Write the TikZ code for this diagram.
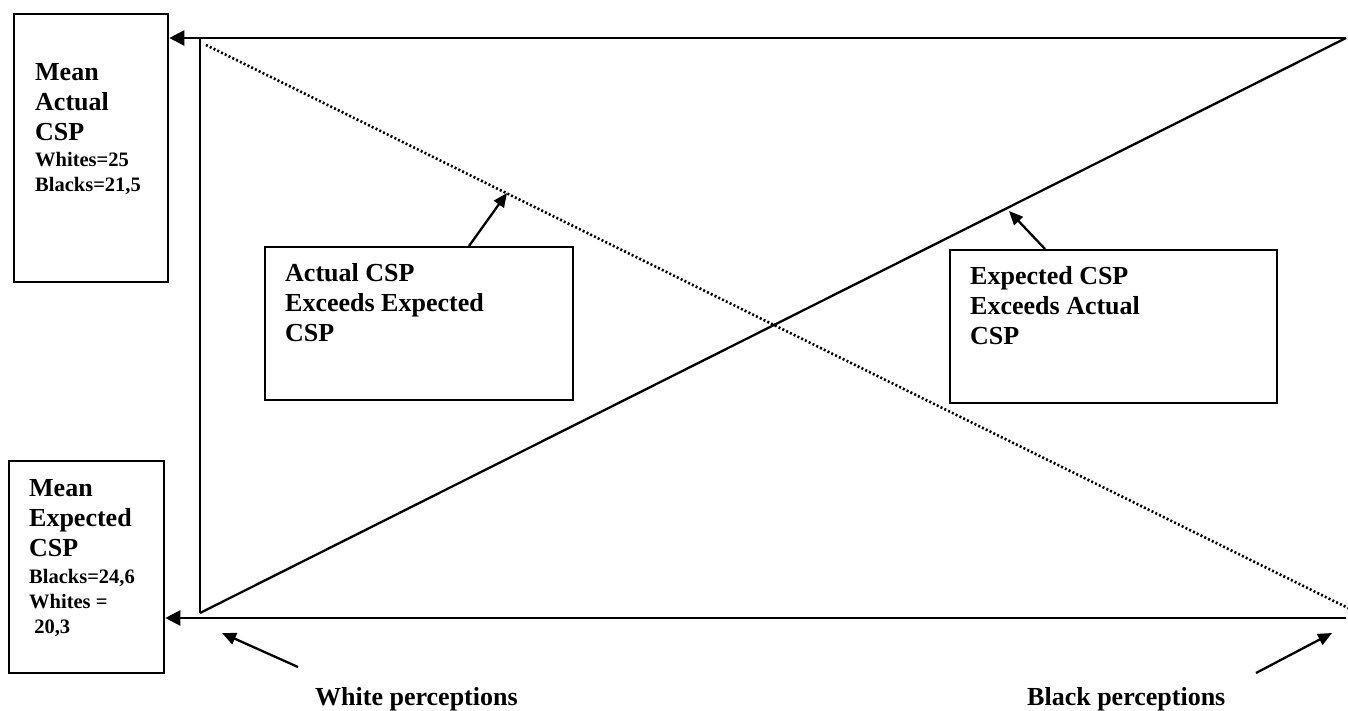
\documentclass[tikz,border=0pt]{standalone}
\usepackage{fontspec}
\setmainfont{Liberation Serif}
\usetikzlibrary{arrows.meta, positioning}
\tikzset{
	boxnode/.style={
			draw=black,
			line width=2.3pt,
			inner sep=0pt,
			anchor=north west
		},
	bigtext/.style={
			anchor=north west,
			inner sep=0pt,
			align=left,
			font=\fontsize{26}{30}\selectfont\bfseries
		},
	smalltext/.style={
			bigtext,
			font=\fontsize{20.5}{25}\selectfont\bfseries
		},
	axisline/.style={
			line width=2.3pt,
			draw=black
		},
	dotline/.style={
			axisline,
			line width=2.6pt,
			dash pattern=on 2pt off 2.2pt
		},
	bigtip/.style={
			-{Triangle[length=15pt,width=15pt]}
		},
	smalltip/.style={
			-{Triangle[length=14pt,width=12pt]}
		}
}
\begin{document}
\begin{tikzpicture}[x=1pt, y=-1pt]
\useasboundingbox (0,0) rectangle (1348,711);

\node[boxnode, minimum width=154pt, minimum height=268pt] (bMA) at (13,13) {};
\node[bigtext] (tMA) at (35,63) {Mean\\Actual\\CSP};
\node[smalltext] (sMA) at (35,152) {Whites=25\\Blacks=21,5};

\node[boxnode, minimum width=155pt, minimum height=212pt] (bME) at (8,460) {};
\node[bigtext] (tME) at (29,479) {Mean\\Expected\\CSP};
\node[smalltext] (sME) at (29,569) {Blacks=24,6\\Whites =\\~20,3};

\node[boxnode, minimum width=308pt, minimum height=153pt] (bUp) at (264,246) {};
\node[bigtext] (tUp) at (285,263) {Actual CSP\\Exceeds Expected\\CSP};

\node[boxnode, minimum width=327pt, minimum height=153pt] (bDn) at (949,249) {};
\node[bigtext] (tDn) at (970,266) {Expected CSP\\Exceeds Actual\\CSP};

\node[bigtext, anchor=base west] (lW) at (315,705) {White perceptions};
\node[bigtext, anchor=base west] (lB) at (1027,705) {Black perceptions};

\coordinate (cTR) at (1346,38);
\coordinate (cTL) at (200,38);
\coordinate (cBL) at (200,613);
\coordinate (cBR) at (1346,618);
\coordinate (dS) at (206,45);
\coordinate (dE) at (1348,608);

\draw[axisline, bigtip] (cTR) -- (bMA.east |- cTR);
\draw[axisline, bigtip] (cBR) -- (bME.east |- cBR);
\draw[axisline] (cTL) -- (cBL);
\draw[axisline] (cBL) -- (cTR);
\draw[dotline] (dS) -- (dE);

% pointers
\coordinate (aUp) at (469,246);
\coordinate (pUp) at (507,193);
\coordinate (aDn) at (1045,249);
\coordinate (pDn) at (1009,211);
\coordinate (aW) at (298,667);
\coordinate (pW) at (222,633);
\coordinate (aB) at (1256,673);
\coordinate (pB) at (1332,633);

\draw[axisline, smalltip] (aUp) -- (pUp);
\draw[axisline, smalltip] (aDn) -- (pDn);
\draw[axisline, smalltip] (aW) -- (pW);
\draw[axisline, smalltip] (aB) -- (pB);

\end{tikzpicture}
\end{document}
